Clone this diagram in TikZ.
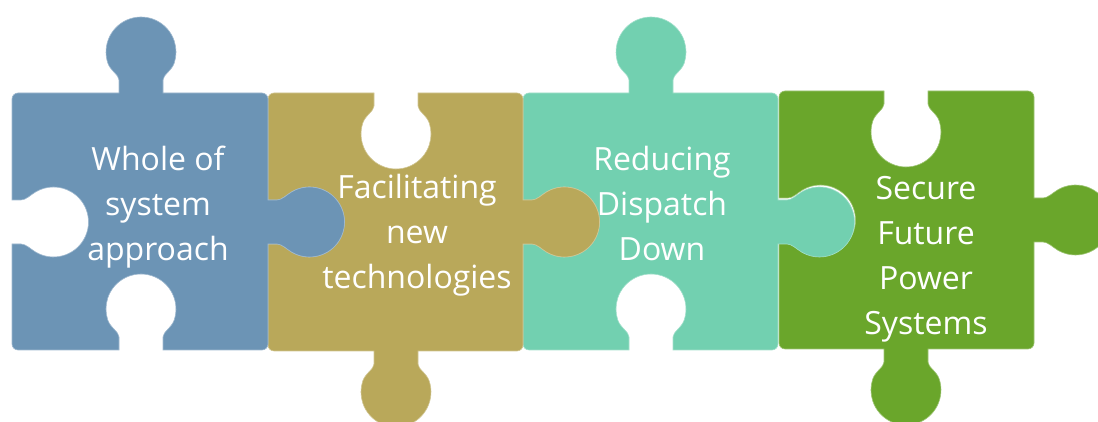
\documentclass[tikz,border=0pt]{standalone}
\usepackage{fontspec}
\setmainfont{Open Sans}
\definecolor{cblue}{HTML}{6C94B5}
\definecolor{colive}{HTML}{B9A85A}
\definecolor{cteal}{HTML}{72D0B0}
\definecolor{cgreen}{HTML}{6AA62B}
\tikzset{
  piecefill/.style={fill=#1, draw=#1!65!white, line width=0.6pt},
  puzzletext/.style={text=white, font=\fontsize{32}{45}\selectfont, align=center, inner sep=0pt}
}
% outward profile on a top or bottom edge
\newcommand\profH{ -- (-22,0) -- (-22,13) .. controls (-22,18) and (-30.7,22.4) .. (-33.2,30)
  arc[start angle=198.3, end angle=-18.3, radius=35]
  .. controls (30.7,22.4) and (22,18) .. (22,13) -- (22,0)}
% outward profile on a left or right edge
\newcommand\profV{ -- (-22,0) -- (-22,9) .. controls (-22,14) and (-27.3,18.8) .. (-30.3,24)
  arc[start angle=210, end angle=-30, radius=35]
  .. controls (27.3,18.8) and (22,14) .. (22,9) -- (22,0)}
% side: x, y of the tab base, rotation, distance back to corner, distance on to corner, sign, profile
\newcommand\sidepath[7]{
  {[shift={(#1,#2)},rotate=#3]
    -- (-#4+6,0) {[yscale=#6] #7} -- (#5-6,0)
    .. controls (#5-2.7,0) and (#5,-2.7) .. (#5,-6)}
}
% L, T, R, B, tab x, tab y, colour, top sign, bottom sign
\newcommand\piece[9]{
  \pgfmathsetmacro\eTa{#5-#1}\pgfmathsetmacro\eTb{#3-#5}
  \pgfmathsetmacro\eRa{#2-#6}\pgfmathsetmacro\eRb{#6-#4}
  \path[piecefill=#7] (#1+6,#2)
    \sidepath{#5}{#2}{0}{\eTa}{\eTb}{#8}{\profH}
    \sidepath{#3}{#6}{-90}{\eRa}{\eRb}{1}{\profV}
    \sidepath{#5}{#4}{180}{\eTb}{\eTa}{#9}{\profH}
    \sidepath{#1}{#6}{90}{\eRb}{\eRa}{-1}{\profV}
    -- cycle;
}
\begin{document}
\begin{tikzpicture}[x=1pt,y=1pt]
\useasboundingbox (0,0) rectangle (1098,422);
\clip (0,0) rectangle (1098,422);
\piece{779}{331}{1034}{73}{906}{202}{cgreen}{-1}{1}
\piece{523}{329}{778}{72}{651}{200}{cteal}{1}{-1}
\piece{268}{329}{523}{71}{396}{200}{colive}{-1}{1}
\piece{12}{329}{268}{72}{141}{200}{cblue}{1}{-1}
\node[puzzletext] (whole) at (158,215) {Whole of\\system\\approach};
\node[puzzletext] (facil) at (417,187) {Facilitating\\new\\technologies};
\node[puzzletext] (reduc) at (662,218) {Reducing\\Dispatch\\Down};
\node[puzzletext] (secure) at (926,163) {Secure\\Future\\Power\\Systems};
\end{tikzpicture}
\end{document}
